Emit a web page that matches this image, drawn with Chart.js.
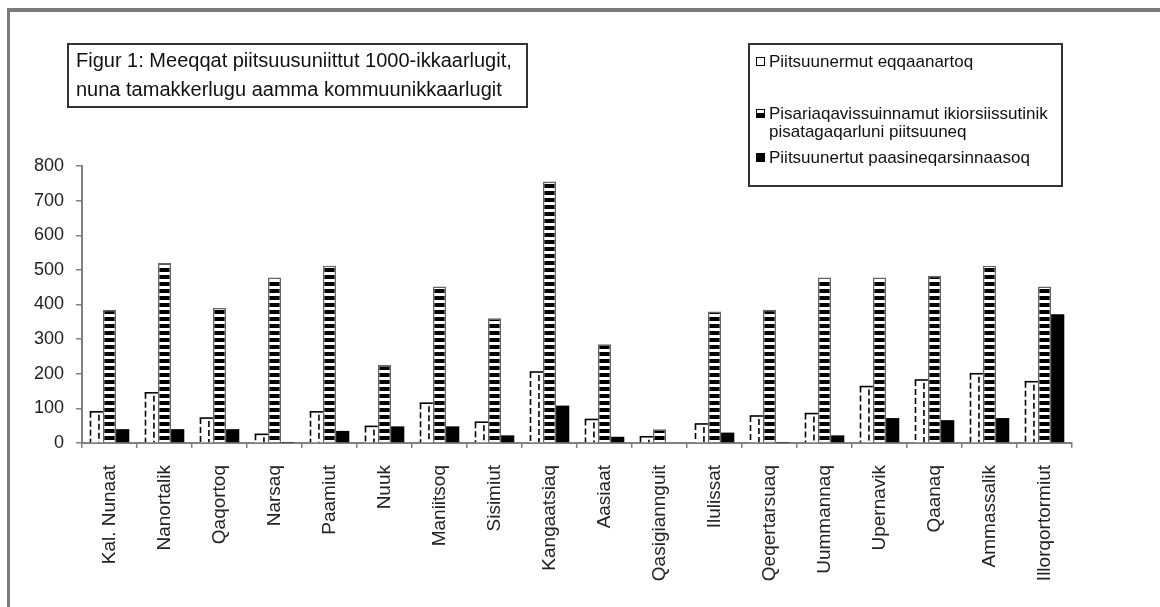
<!DOCTYPE html>
<html>
<head>
<meta charset="utf-8">
<script src="https://cdn.jsdelivr.net/npm/chart.js@4/dist/chart.umd.min.js"></script>
<style>
  body { margin: 0; background: #fff; font-family: "Liberation Sans", Arial, sans-serif; }
  #wrap { position: relative; width: 1160px; height: 607px; overflow: hidden; }
  #frame { position: absolute; left: 7px; top: 8px; width: 1150px; height: 640px;
           border-left: 3px solid #7a7a7a; border-top: 4px solid #7a7a7a; border-right: 1px solid #c8c8c8; }
  #titleBox { position: absolute; left: 67px; top: 43px; width: 450px; height: 60px;
              border: 2px solid #333; padding: 1px 0 0 7px; font-size: 20px; line-height: 29px; color: #111; white-space: nowrap; }
  #legendBox { position: absolute; left: 748px; top: 43px; width: 311px; height: 140px; border: 2px solid #333; }
  .entry { position: absolute; left: 6px; font-size: 17px; line-height: 18px; color: #111; white-space: nowrap; }
  .mark { position: absolute; left: 0; top: 4px; width: 7px; height: 7px; border: 1px solid #000; }
  .entry span { margin-left: 13px; display: block; }
  canvas { position: absolute; left: 0; top: 0; }
</style>
</head>
<body>
<div id="wrap">
  <div id="frame"></div>
  <canvas id="myChart" width="1160" height="607"></canvas>
  <div id="titleBox"></div>
  <div id="legendBox"></div>
</div>
<script>
title = ['Figur 1: Meeqqat piitsuusuniittut 1000-ikkaarlugit,', 'nuna tamakkerlugu aamma kommuunikkaarlugit']

categories = ['Kal. Nunaat', 'Nanortalik', 'Qaqortoq', 'Narsaq', 'Paamiut', 'Nuuk', 'Maniitsoq', 'Sisimiut',
  'Kangaatsiaq', 'Aasiaat', 'Qasigiannguit', 'Ilulissat', 'Qeqertarsuaq', 'Uummannaq', 'Upernavik',
  'Qaanaq', 'Ammassalik', 'Illorqortormiut']

seriesNames = ['Piitsuunermut eqqaanartoq',
  'Pisariaqavissuinnamut ikiorsiissutinik\npisatagaqarluni piitsuuneq',
  'Piitsuunertut paasineqarsinnaasoq']

eqqaanartoq = [90, 145, 72, 25, 90, 48, 115, 60, 205, 68, 18, 55, 78, 85, 163, 182, 200, 177]
pisatagaqarluni = [385, 520, 390, 478, 512, 225, 452, 360, 755, 285, 40, 380, 385, 478, 478, 483, 512, 452]
paasineqarsinnaasoq = [40, 40, 40, 1, 35, 48, 48, 22, 108, 18, 0, 30, 1, 22, 72, 66, 72, 372]

yTicks = [0, 100, 200, 300, 400, 500, 600, 700, 800]

// title box
document.getElementById('titleBox').innerHTML = title.join('<br>')

// horizontal stripes for the middle series
function stripePattern() {
  var c = document.createElement('canvas')
  c.width = 8; c.height = 7
  var g = c.getContext('2d')
  g.fillStyle = '#fff'
  g.fillRect(0, 0, 8, 7)
  g.fillStyle = '#000'
  g.fillRect(0, 2, 8, 4)
  return g.createPattern(c, 'repeat')
}
var stripes = stripePattern()

// white bars: solid top, dashed sides
var dashedBars = {
  id: 'dashedBars',
  afterDatasetsDraw(chart) {
    var ctx = chart.ctx
    var meta = chart.getDatasetMeta(0)
    ctx.save()
    ctx.strokeStyle = '#000'
    ctx.lineWidth = 1.6
    meta.data.forEach((bar) => {
      var p = bar.getProps(['x', 'y', 'base', 'width'], true)
      var l = p.x - p.width / 2, r = p.x + p.width / 2
      ctx.setLineDash([])
      ctx.beginPath()
      ctx.moveTo(l, p.y); ctx.lineTo(r, p.y)
      ctx.stroke()
      ctx.setLineDash([6, 3])
      ctx.beginPath()
      ctx.moveTo(l + 0.8, p.y); ctx.lineTo(l + 0.8, p.base)
      ctx.moveTo(l + p.width * 0.7, p.y + 3); ctx.lineTo(l + p.width * 0.7, p.base)
      ctx.stroke()
    })
    ctx.restore()
  }
}

var ctx = document.getElementById('myChart')
var bar = new Chart(ctx, {
  type: 'bar',
  data: {
    labels: categories,
    datasets: [
      { label: seriesNames[0].replace('\n', ' '), data: eqqaanartoq, backgroundColor: '#fff', borderWidth: 0 },
      { label: seriesNames[1].replace('\n', ' '), data: pisatagaqarluni, backgroundColor: stripes, borderColor: '#666', borderWidth: 1.6 },
      { label: seriesNames[2].replace('\n', ' '), data: paasineqarsinnaasoq, backgroundColor: '#000', borderWidth: 0 }
    ]
  },
  options: {
    responsive: false,
    animation: false,
    devicePixelRatio: 1,
    categoryPercentage: 0.72,
    barPercentage: 1.0,
    layout: { padding: { top: 166, right: 88, left: 0, bottom: 0 } },
    scales: {
      x: {
        afterFit: (s) => { s.height = 164 },
        grid: { offset: true, drawOnChartArea: false, tickLength: 5, color: '#808080', lineWidth: 1.5 },
        border: { color: '#808080', width: 2 },
        ticks: {
          autoSkip: false, maxRotation: 90, minRotation: 90, padding: 17,
          color: '#222', font: { family: 'Liberation Sans', size: 19 }
        }
      },
      y: {
        min: 0, max: 800,
        afterFit: (s) => { s.width = 82 },
        afterBuildTicks: (s) => { s.ticks = yTicks.map((v) => ({ value: v })) },
        grid: { drawOnChartArea: false, tickLength: 6, color: '#808080', lineWidth: 1.5 },
        border: { color: '#808080', width: 2 },
        ticks: { padding: 12, color: '#222', font: { family: 'Liberation Sans', size: 18 } }
      }
    },
    plugins: { legend: { display: false }, tooltip: { enabled: false } }
  },
  plugins: [dashedBars]
})

// legend box
var legendTops = [8, 60, 104]
var markStyles = [
  'background:#fff',
  'background:linear-gradient(#fff 0 40%, #000 40% 100%)',
  'background:#000'
]
var legendBox = document.getElementById('legendBox')
seriesNames.forEach((name, i) => {
  var e = document.createElement('div')
  e.className = 'entry'
  e.style.top = legendTops[i] + 'px'
  e.innerHTML = '<div class="mark" style="' + markStyles[i] + '"></div><span>' + name.split('\n').join('<br>') + '</span>'
  legendBox.appendChild(e)
})
</script>
</body>
</html>
